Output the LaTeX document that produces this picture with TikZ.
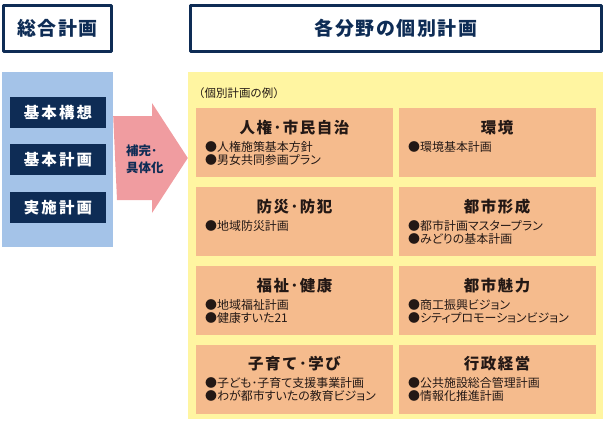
\documentclass[tikz,border=0pt]{standalone}
\usepackage{fontspec}
\setmainfont{Noto Sans CJK JP}
\usetikzlibrary{positioning}
\definecolor{navy}{HTML}{0E2C55}
\definecolor{panelblue}{HTML}{A4C3E8}
\definecolor{arrowpink}{HTML}{F09CA0}
\definecolor{panelyellow}{HTML}{FFF5A1}
\definecolor{planorange}{HTML}{F5BB8D}
\definecolor{inkdark}{HTML}{231815}
\begin{document}
\begin{tikzpicture}[x=1bp,y=-1bp,line join=bevel,
  headbox/.style={draw=navy,line width=2.5bp,fill=white,text=navy,inner sep=0pt,
    font=\bfseries\fontsize{19}{19}\selectfont\addfontfeature{LetterSpace=8}},
  stagebox/.style={fill=navy,text=white,minimum width=96bp,minimum height=31bp,inner sep=0pt,
    font=\bfseries\fontsize{15.5}{15.5}\selectfont\addfontfeature{LetterSpace=14}},
  planbox/.style={fill=planorange,minimum width=197bp,minimum height=69bp,inner sep=0pt},
  plantitle/.style={text=inkdark,inner sep=0pt,
    font=\bfseries\fontsize{15.5}{15.5}\selectfont\addfontfeature{LetterSpace=10}},
  planitems/.style={text=inkdark,inner sep=0pt,anchor=north west,align=left,
    font=\fontsize{12}{13.5}\selectfont\addfontfeature{RawFeature=+palt}},
]
  \useasboundingbox (0,0) rectangle (607,425);
%%
  % Node: sogo
  \node[headbox,minimum width=108bp,minimum height=46bp] (sogo) at (57.5,28.5) {総合計画};
  % Node: kobetsu
  \node[headbox,minimum width=411bp,minimum height=46bp] (kobetsu) at (396,28.5) {各分野の個別計画};
  % Node: panel (left)
  \node[fill=panelblue,minimum width=111bp,minimum height=175bp,inner sep=0pt] (sogopanel) at (57.5,159.5) {};
  \node[stagebox] (koso) at (58,112.5) {基本構想};
  \node[stagebox] (keikaku) at (58,159.5) {基本計画};
  \node[stagebox] (jisshi) at (58,207.5) {実施計画};
  % Node: panel (right)
  \node[fill=panelyellow,minimum width=415bp,minimum height=347bp,inner sep=0pt] (kobetsupanel) at (395.5,245.5) {};
  \node[anchor=west,inner sep=0pt,text=inkdark,font=\fontsize{11.5}{11.5}\selectfont] (rei) at (193,93) {（個別計画の例）};
  % Edge: sogopanel -> kobetsupanel
  \coordinate (hokanA) at (sogopanel.east |- 0,116);
  \coordinate (hokanB) at (kobetsupanel.west |- 0,158);
  \fill[arrowpink] (hokanA) -- (152,116) -- (152,103) -- (hokanB) -- (152,213) -- (152,200) -- (117,200) -- cycle;
  \node[anchor=west,align=left,inner sep=0pt,text=navy,font=\bfseries\fontsize{12.5}{17}\selectfont] (hokan) at (126,159.5) {補完･\\具体化};
  % Node: jinken
  \node[planbox] (jinken) at (294.5,142.5) {};
  \node[plantitle] at (294.5,128) {人権･市民自治};
  \node[planitems] at (205,141) {●人権施策基本方針\\●男女共同参画プラン};
  % Node: kankyo
  \node[planbox] (kankyo) at (497,142.5) {};
  \node[plantitle] at (497,128) {環境};
  \node[planitems] at (408,141) {●環境基本計画};
  % Node: bosai
  \node[planbox] (bosai) at (294.5,221.5) {};
  \node[plantitle] at (294.5,207) {防災･防犯};
  \node[planitems] at (205,220) {●地域防災計画};
  % Node: toshikeisei
  \node[planbox] (toshikeisei) at (497,221.5) {};
  \node[plantitle] at (497,207) {都市形成};
  \node[planitems] at (408,220) {●都市計画マスタープラン\\●みどりの基本計画};
  % Node: fukushi
  \node[planbox] (fukushi) at (294.5,300.5) {};
  \node[plantitle] at (294.5,286) {福祉･健康};
  \node[planitems] at (205,299) {●地域福祉計画\\●健康すいた21};
  % Node: toshimiryoku
  \node[planbox] (toshimiryoku) at (497,300.5) {};
  \node[plantitle] at (497,286) {都市魅力};
  \node[planitems] at (408,299) {●商工振興ビジョン\\●シティプロモーションビジョン};
  % Node: kosodate
  \node[planbox] (kosodate) at (294.5,379.5) {};
  \node[plantitle] at (294.5,364) {子育て･学び};
  \node[planitems] at (205,377) {●子ども･子育て支援事業計画\\●わが都市すいたの教育ビジョン};
  % Node: gyosei
  \node[planbox] (gyosei) at (497,379.5) {};
  \node[plantitle] at (497,364) {行政経営};
  \node[planitems] at (408,377) {●公共施設総合管理計画\\●情報化推進計画};
%
\end{tikzpicture}
\end{document}
